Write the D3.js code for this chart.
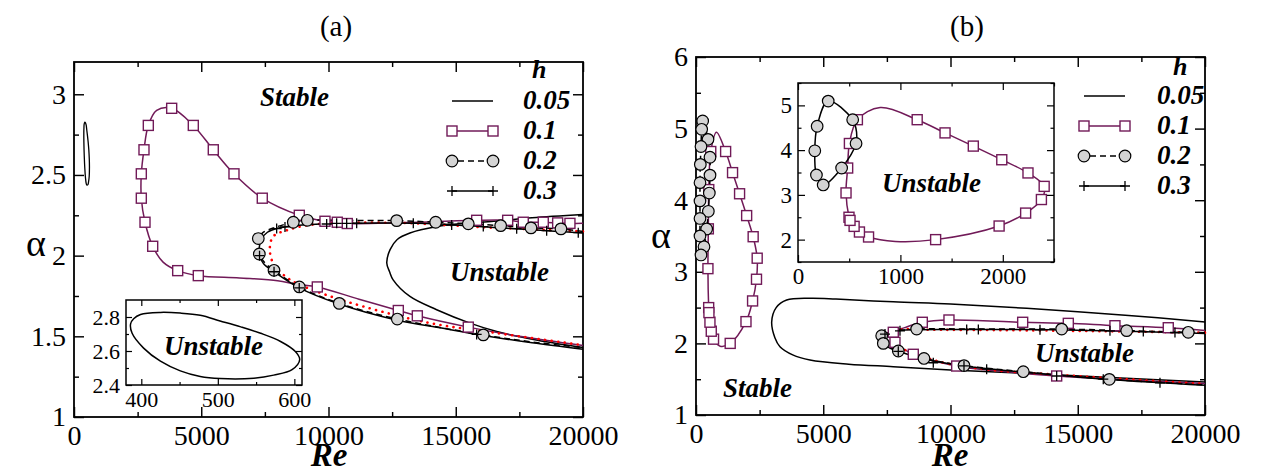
<!DOCTYPE html>
<meta charset="utf-8">
<script src="https://cdn.jsdelivr.net/npm/d3@7"></script>
<style>
  body { margin: 0; background: #fff; }
  svg text { font-family: "Liberation Serif", "DejaVu Serif", serif; fill: #000; }
  .lab { font-weight: bold; font-style: italic; }
</style>
<body>
<div id="chart"></div>
<script>

// panel (a)
var a_h005_loop = [[386,2.76],[390,2.79],[399,2.815],[425,2.827],[451,2.823],[477,2.81],[503,2.777],[530,2.742],[556,2.704],[582,2.656],[601,2.598],[607,2.55],[597,2.49],[573,2.458],[547,2.44],[503,2.438],[477,2.45],[451,2.483],[425,2.54],[403,2.617],[388,2.704]];
var a_h005_nose = [[20000,2.255],[18000,2.235],[16500,2.213],[15300,2.2],[14260,2.18],[13200,2.14],[12700,2.1],[12420,2.037],[12290,1.955],[12400,1.9],[12540,1.85],[13200,1.747],[14250,1.665],[15560,1.582],[16610,1.53],[18000,1.482],[20000,1.43]];
var a_h01_line = [[20000,2.2],[19487,2.2],[19004,2.203],[18439,2.207],[17653,2.207],[17040,2.219],[15822,2.219],[13000,2.205],[10738,2.199],[10345,2.207],[9862,2.213],[8853,2.25],[7398,2.356],[6286,2.507],[5473,2.656],[4688,2.807],[3838,2.913],[3248,2.9],[2920,2.807],[2750,2.656],[2645,2.507],[2645,2.356],[2790,2.207],[3092,2.058],[3500,1.96],[4074,1.907],[4884,1.876],[6500,1.862],[8000,1.845],[8750,1.822],[9560,1.806],[11200,1.73],[12743,1.66],[13490,1.627],[15493,1.557],[17500,1.5],[20000,1.443]];
var a_h01_pts = [[19487,2.2],[19004,2.203],[18439,2.207],[17653,2.207],[17040,2.219],[15822,2.219],[10738,2.199],[10345,2.207],[9862,2.213],[8853,2.25],[7398,2.356],[6286,2.507],[5473,2.656],[4688,2.807],[3838,2.913],[2920,2.807],[2750,2.656],[2645,2.507],[2645,2.356],[2790,2.207],[3092,2.058],[4074,1.907],[4884,1.876],[9560,1.806],[12743,1.66],[13490,1.627],[15493,1.557]];
var a_h02_line = [[20000,2.15],[19134,2.166],[17956,2.172],[16765,2.186],[15493,2.197],[14211,2.207],[12679,2.217],[11000,2.218],[9167,2.219],[8617,2.207],[7900,2.175],[7400,2.14],[7242,2.106],[7250,2.06],[7282,2.01],[7500,1.955],[7858,1.909],[8853,1.806],[10424,1.704],[12703,1.607],[16082,1.509],[18000,1.465],[20000,1.43]];
var a_h02_pts = [[7242,2.106],[7282,2.01],[7858,1.909],[8853,1.806],[10424,1.704],[12703,1.607],[16082,1.509],[8617,2.207],[9167,2.219],[12679,2.217],[14211,2.207],[15493,2.197],[16765,2.186],[17956,2.172],[19134,2.166]];
var a_h03_line = [[20000,2.14],[19000,2.15],[18000,2.16],[17000,2.17],[16000,2.18],[15000,2.19],[13500,2.2],[12000,2.203],[10500,2.2],[9500,2.195],[8600,2.185],[8000,2.17],[7600,2.145],[7350,2.1],[7280,2.05],[7290,2.0],[7450,1.95],[7860,1.9],[8850,1.8],[10420,1.7],[12700,1.6],[14500,1.55],[16080,1.505],[18000,1.46],[20000,1.42]];
var a_h03_pts = [[7963,2.168],[8290,2.178],[9928,2.196],[10321,2.2],[10714,2.2],[11107,2.2],[13332,2.2],[14840,2.19],[16082,2.18],[17394,2.167],[18572,2.155],[19814,2.142],[7290,2.0],[7860,1.9],[8850,1.8],[15822,1.512]];
var a_red = [[20000,2.15],[16607,2.172],[12679,2.203],[9403,2.193],[8420,2.16],[7832,2.12],[7700,2.058],[7727,1.996],[7897,1.934],[8486,1.851],[9534,1.778],[11367,1.685],[13987,1.582],[16607,1.52],[20000,1.445]];

// panel (b)
var b_h005_nose = [[20000,2.3],[17000,2.39],[12993,2.49],[10000,2.55],[7752,2.58],[5500,2.62],[4479,2.63],[3562,2.606],[3150,2.5],[2974,2.3],[3100,2.08],[3300,1.954],[3800,1.84],[4479,1.768],[6000,1.71],[7752,1.675],[10000,1.63],[12993,1.582],[16500,1.52],[20000,1.46]];
var b_h01_loop = [[498,2.5],[469,3.044],[485,3.6],[502,4.148],[580,4.68],[803,4.95],[1164,4.68],[1436,4.385],[1712,4.09],[1990,3.785],[2246,3.49],[2404,3.19],[2377,2.896],[2223,2.593],[1964,2.304],[1344,2.0],[950,1.96],[689,2.059],[600,2.17],[548,2.296],[508,2.43]];
var b_h01_loop_pts = [[498,2.5],[469,3.044],[485,3.6],[502,4.148],[580,4.68],[1164,4.68],[1436,4.385],[1712,4.09],[1990,3.785],[2246,3.49],[2404,3.19],[2377,2.896],[2223,2.593],[1964,2.304],[1344,2.0],[689,2.059],[600,2.17],[548,2.296],[508,2.43]];
var b_h02_loop = [[262,5.106],[472,4.85],[550,4.6],[550,4.35],[524,4.1],[485,3.845],[419,3.598],[314,3.35],[196,3.235],[157,3.5],[157,3.745],[157,3.99],[157,4.245],[170,4.5],[196,4.75],[223,4.99]];
var b_h02_inset = [[295,5.096],[534,4.68],[572,4.4],[567,4.148],[426,3.6],[246,3.222],[180,3.444],[164,3.985],[187,4.533]];
var b_h02_inset_pts = [[295,5.096],[534,4.68],[567,4.148],[426,3.6],[246,3.222],[180,3.444],[164,3.985],[187,4.533]];
var b_h01_nose = [[20000,2.18],[18557,2.219],[16462,2.247],[14629,2.28],[12836,2.295],[9940,2.327],[8892,2.295],[8200,2.22],[7752,2.155],[7700,2.08],[7818,2.015],[8538,1.848],[10243,1.684],[12000,1.61],[14172,1.545],[17000,1.49],[20000,1.44]];
var b_h01_nose_pts = [[18557,2.219],[16462,2.247],[14629,2.28],[12836,2.295],[9940,2.327],[8892,2.295],[7752,2.155],[7818,2.015],[8538,1.848],[10243,1.684],[14172,1.545]];
var b_h02_nose = [[20000,2.15],[19343,2.155],[16922,2.178],[14368,2.2],[11000,2.2],[8670,2.2],[7800,2.17],[7400,2.14],[7296,2.108],[7300,2.05],[7360,2.0],[7949,1.894],[8958,1.79],[10530,1.69],[12860,1.605],[16240,1.498],[18000,1.46],[20000,1.42]];
var b_h02_nose_pts = [[7296,2.108],[7360,2.0],[7949,1.894],[8958,1.79],[10530,1.69],[12860,1.605],[16240,1.498],[8670,2.2],[14368,2.2],[16922,2.178],[19343,2.155]];
var b_h03_nose = [[20000,2.14],[18000,2.16],[16000,2.175],[14000,2.19],[12000,2.195],[10000,2.195],[8500,2.19],[7800,2.17],[7400,2.13],[7280,2.08],[7300,2.03],[7500,1.96],[7949,1.89],[8958,1.785],[10530,1.685],[12860,1.6],[16240,1.495],[20000,1.415]];
var b_h03_pts = [[7426,2.13],[8015,2.175],[10636,2.195],[11094,2.195],[13516,2.19],[16266,2.175],[17576,2.165],[18820,2.152],[7949,1.89],[9324,1.73],[10530,1.685],[11421,1.64],[14172,1.545],[16003,1.5],[18231,1.45]];
var b_red = [[20000,2.15],[16000,2.17],[12000,2.185],[9000,2.19],[8015,2.187],[7885,2.117],[7900,2.05],[8015,1.954],[9324,1.768],[11029,1.652],[14330,1.559],[20000,1.433]];

// ticks and labels
var reTicks = [0, 5000, 10000, 15000, 20000];
var reMinor = [2500, 7500, 12500, 17500];
var a_yTicks = [1, 1.5, 2, 2.5, 3];
var a_yMinor = [1.25, 1.75, 2.25, 2.75];
var b_yTicks = [1, 2, 3, 4, 5, 6];
var b_yMinor = [1.5, 2.5, 3.5, 4.5, 5.5];
var ia_xTicks = [400, 500, 600], ia_xMinor = [450, 550];
var ia_yTicks = [2.4, 2.6, 2.8], ia_yMinor = [2.5, 2.7];
var ib_xTicks = [0, 1000, 2000], ib_xMinor = [500, 1500, 2500];
var ib_yTicks = [2, 3, 4, 5], ib_yMinor = [1.5, 2.5, 3.5, 4.5, 5.5];
var legendLabels = ["0.05", "0.1", "0.2", "0.3"];

var PURPLE = "#711a58";

var svg = d3.select("#chart").append("svg")
  .attr("width", 1268).attr("height", 473);

// frame with inward ticks on all four sides, like xmgrace
function drawAxes(x, y, o) {
  var g = svg.append("g");
  var x0 = x.range()[0], x1 = x.range()[1], yb = y.range()[0], yt = y.range()[1];
  g.append("rect").attr("x", x0).attr("y", yt).attr("width", x1 - x0).attr("height", yb - yt)
    .attr("fill", o.fill || "none");

  function ax(gen, tr, vals, size, labels) {
    var a = g.append("g").attr("transform", tr)
      .call(gen.tickValues(vals).tickSize(-size).tickPadding(o.pad)
        .tickFormat(labels ? function(d) { return String(d); } : ""));
    a.select(".domain").remove();
    a.selectAll("line").attr("stroke", "#000").attr("stroke-width", o.sw * 0.8);
    a.attr("font-family", null).attr("font-size", o.font + "px");
    return a;
  }
  ax(d3.axisBottom(x), "translate(0," + yb + ")", o.xt, o.tick, true);
  ax(d3.axisBottom(x), "translate(0," + yb + ")", o.xm, o.tick / 2, false);
  ax(d3.axisTop(x), "translate(0," + yt + ")", o.xt, o.tick, false);
  ax(d3.axisTop(x), "translate(0," + yt + ")", o.xm, o.tick / 2, false);
  ax(d3.axisLeft(y), "translate(" + x0 + ",0)", o.yt, o.tick, true);
  ax(d3.axisLeft(y), "translate(" + x0 + ",0)", o.ym, o.tick / 2, false);
  ax(d3.axisRight(y), "translate(" + x1 + ",0)", o.yt, o.tick, false);
  ax(d3.axisRight(y), "translate(" + x1 + ",0)", o.ym, o.tick / 2, false);

  g.append("rect").attr("x", x0).attr("y", yt).attr("width", x1 - x0).attr("height", yb - yt)
    .attr("fill", "none").attr("stroke", "#000").attr("stroke-width", o.sw);
}

function curve(data, x, y, color, dash, closed, width) {
  var p = svg.append("path").datum(data)
    .attr("d", d3.line()
      .x(function(d) { return x(d[0]); })
      .y(function(d) { return y(d[1]); })
      .curve(closed ? d3.curveCatmullRomClosed : d3.curveCatmullRom))
    .attr("fill", "none").attr("stroke", color)
    .attr("stroke-width", width || 1.5);
  if (dash) p.attr("stroke-dasharray", dash);
  return p;
}
function redDots(data, x, y) {
  curve(data, x, y, "#ff0000", "0.1,6.5", false, 2.6).attr("stroke-linecap", "round");
}
function squares(data, x, y) {
  svg.append("g").selectAll("rect").data(data).enter().append("rect")
    .attr("x", function(d) { return x(d[0]) - 5; })
    .attr("y", function(d) { return y(d[1]) - 5; })
    .attr("width", 10).attr("height", 10)
    .attr("fill", "#fff").attr("stroke", PURPLE).attr("stroke-width", 1.4);
}
function circles(data, x, y) {
  svg.append("g").selectAll("circle").data(data).enter().append("circle")
    .attr("cx", function(d) { return x(d[0]); })
    .attr("cy", function(d) { return y(d[1]); })
    .attr("r", 5.8)
    .attr("fill", "#d4d4d4").attr("stroke", "#000").attr("stroke-width", 1.2);
}
function pluses(data, x, y) {
  svg.append("g").selectAll("path").data(data).enter().append("path")
    .attr("d", function(d) {
      var cx = x(d[0]), cy = y(d[1]);
      return "M" + (cx - 5) + "," + cy + "H" + (cx + 5) + "M" + cx + "," + (cy - 5) + "V" + (cy + 5);
    })
    .attr("stroke", "#000").attr("stroke-width", 1.3);
}
function label(txt, x, y, size, cls, anchor) {
  return svg.append("text").attr("x", x).attr("y", y).attr("font-size", size + "px")
    .attr("class", cls || null).attr("text-anchor", anchor || "start").text(txt);
}
function legend(lx, ly, tx, hx, hy) {
  label("h", hx, hy, 26, "lab");
  legendLabels.forEach(function(t, i) {
    var yy = ly + i * 30;
    var ln = svg.append("line").attr("x1", lx).attr("x2", lx + 41).attr("y1", yy).attr("y2", yy)
      .attr("stroke", i == 1 ? PURPLE : "#000").attr("stroke-width", 1.5);
    if (i == 2) ln.attr("stroke-dasharray", "6,4").attr("x1", lx + 6).attr("x2", lx + 35);
    var ends = [[lx, yy], [lx + 41, yy]];
    var id = function(v) { return v; };
    if (i == 1) squares(ends, id, id);
    if (i == 2) circles(ends, id, id);
    if (i == 3) pluses(ends, id, id);
    label(t, tx, yy + 8, 27, "lab");
  });
}

// ================= panel (a) =================
var xa = d3.scaleLinear().domain([0, 20000]).range([74, 583]);
var ya = d3.scaleLinear().domain([1, 3.2]).range([417, 62]);
drawAxes(xa, ya, {xt: reTicks, xm: reMinor, yt: a_yTicks, ym: a_yMinor, tick: 10, pad: 8, font: 28, sw: 1.8});

curve(a_h005_loop, xa, ya, "#000", null, true, 1.3);
curve(a_h005_nose, xa, ya, "#000", null, false);
curve(a_h01_line, xa, ya, PURPLE, null, false);
redDots(a_red, xa, ya);
curve(a_h02_line, xa, ya, "#000", "6,4", false);
curve(a_h03_line, xa, ya, "#000", null, false);
squares(a_h01_pts, xa, ya);
circles(a_h02_pts, xa, ya);
pluses(a_h03_pts, xa, ya);

label("Stable", 260, 106, 27, "lab");
label("Unstable", 450, 281, 27, "lab");
legend(452, 101, 523, 532, 78);

// inset (a)
var xia = d3.scaleLinear().domain([380, 610]).range([126, 302]);
var yia = d3.scaleLinear().domain([2.4, 2.9]).range([385, 300]);
drawAxes(xia, yia, {xt: ia_xTicks, xm: ia_xMinor, yt: ia_yTicks, ym: ia_yMinor, tick: 6, pad: 6, font: 22, sw: 1.5, fill: "#fff"});
curve(a_h005_loop, xia, yia, "#000", null, true, 1.5);
label("Unstable", 164, 355, 27, "lab");

label("(a)", 336, 36, 29, null, "middle");
label("Re", 329, 466, 33, "lab", "middle");
label("\u03b1", 36, 256, 38, null, "middle");

// ================= panel (b) =================
var xb = d3.scaleLinear().domain([0, 20000]).range([696, 1205]);
var yb = d3.scaleLinear().domain([1, 6]).range([415, 57]);
drawAxes(xb, yb, {xt: reTicks, xm: reMinor, yt: b_yTicks, ym: b_yMinor, tick: 10, pad: 8, font: 28, sw: 1.8});

curve(b_h005_nose, xb, yb, "#000", null, false);
curve(b_h01_loop, xb, yb, PURPLE, null, true);
curve(b_h01_nose, xb, yb, PURPLE, null, false);
redDots(b_red, xb, yb);
curve(b_h02_loop, xb, yb, "#000", "6,4", true);
curve(b_h02_nose, xb, yb, "#000", "6,4", false);
curve(b_h03_nose, xb, yb, "#000", null, false);
squares(b_h01_loop_pts, xb, yb);
squares(b_h01_nose_pts, xb, yb);
circles(b_h02_loop, xb, yb);
circles(b_h02_nose_pts, xb, yb);
pluses(b_h03_pts, xb, yb);

label("Stable", 723, 397, 27, "lab");
label("Unstable", 1035, 362, 27, "lab");
legend(1084, 96, 1157, 1173, 75);

// inset (b)
var xib = d3.scaleLinear().domain([0, 2500]).range([798, 1054]);
var yib = d3.scaleLinear().domain([1.5, 5.5]).range([262, 83]);
drawAxes(xib, yib, {xt: ib_xTicks, xm: ib_xMinor, yt: ib_yTicks, ym: ib_yMinor, tick: 7, pad: 6, font: 23, sw: 1.5, fill: "#fff"});
curve(b_h01_loop, xib, yib, PURPLE, null, true);
curve(b_h02_inset, xib, yib, "#000", null, true);
squares(b_h01_loop_pts, xib, yib);
circles(b_h02_inset_pts, xib, yib);
label("Unstable", 882, 192, 27, "lab");

label("(b)", 967, 36, 29, null, "middle");
label("Re", 950, 466, 33, "lab", "middle");
label("\u03b1", 661, 248, 38, null, "middle");

</script>
</body>
